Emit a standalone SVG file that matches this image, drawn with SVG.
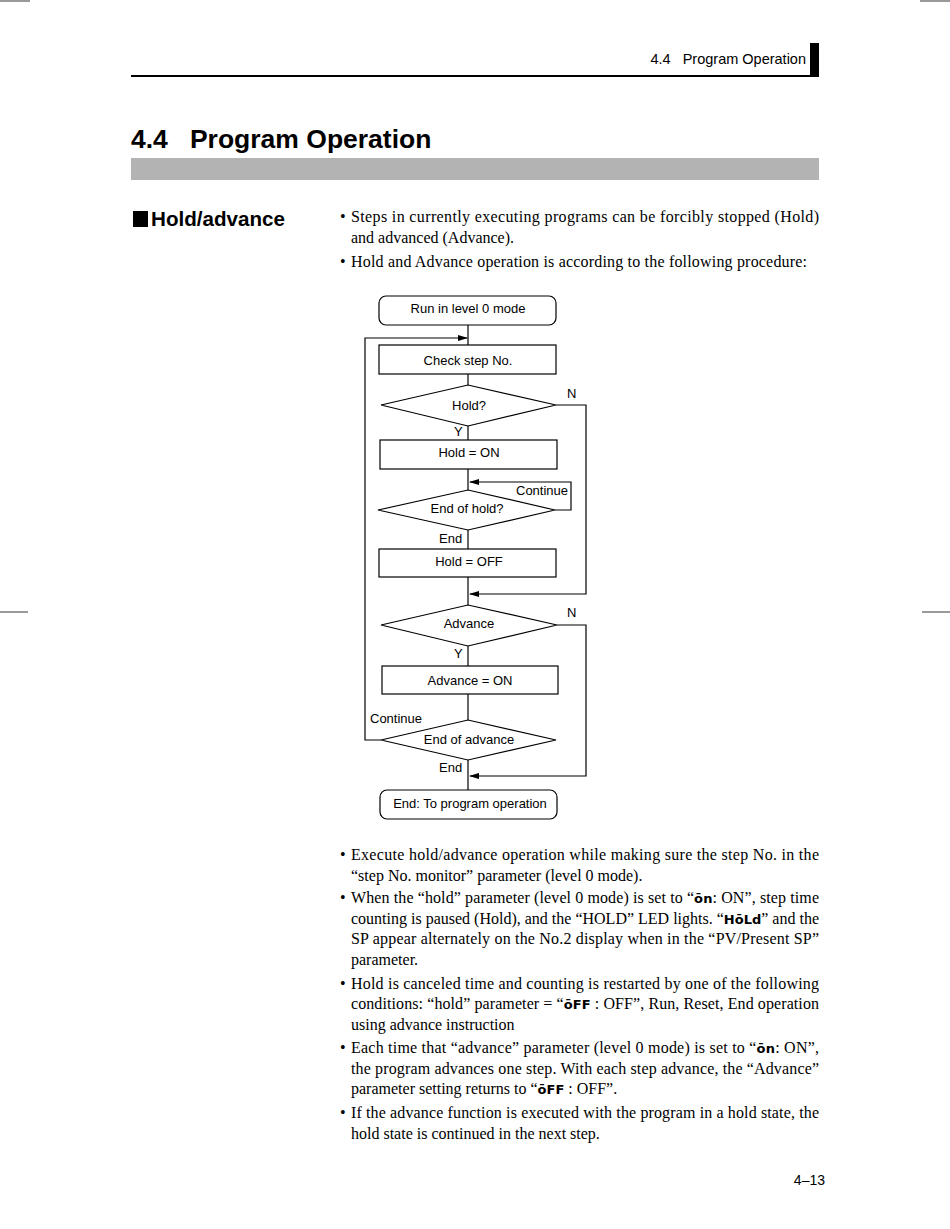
<svg xmlns="http://www.w3.org/2000/svg" width="950" height="1229" viewBox="0 0 950 1229">
<style>
.ser{font-family:"Liberation Serif","DejaVu Serif",serif;font-size:16px;fill:#000}
.fc{font-family:"Liberation Sans",Arial,sans-serif;font-size:13px;fill:#000}
.box{fill:#fff;stroke:#000;stroke-width:1.2}
.ln{fill:none;stroke:#000;stroke-width:1.2}
.seg{font-family:"DejaVu Sans",sans-serif;font-weight:bold;font-size:13px}
</style>
<defs>
<marker id="ah" markerWidth="10" markerHeight="6" refX="9" refY="3" orient="auto" markerUnits="userSpaceOnUse">
<path d="M0,0 L10,3 L0,6 Z" fill="#000"/>
</marker>
</defs>
<rect width="950" height="1229" fill="#fff"/>
<!-- crop marks -->
<g stroke="#000" stroke-width="0.8">
<line x1="0" y1="1" x2="30" y2="1"/><line x1="920" y1="1" x2="950" y2="1"/>
<line x1="0" y1="612" x2="28" y2="612"/><line x1="922" y1="612" x2="950" y2="612"/>
</g>
<!-- header -->
<text x="806" y="64" text-anchor="end" font-family="Liberation Sans,Arial,sans-serif" font-size="14.5" xml:space="preserve">4.4   Program Operation</text>
<rect x="810" y="43" width="9" height="34" fill="#000"/>
<rect x="131" y="75" width="688" height="2" fill="#000"/>
<text x="131" y="148" font-family="Liberation Sans,Arial,sans-serif" font-size="26.5" font-weight="bold" xml:space="preserve">4.4   Program Operation</text>
<rect x="131" y="158" width="688" height="22" fill="#b3b3b3"/>
<rect x="133" y="211" width="15" height="16" fill="#000"/>
<text x="151" y="226" font-family="Liberation Sans,Arial,sans-serif" font-size="20.5" font-weight="bold" textLength="134" lengthAdjust="spacingAndGlyphs">Hold/advance</text>
<!-- intro bullets -->
<g class="ser">
<text x="340" y="222">•</text>
<text x="351" y="222" textLength="468" lengthAdjust="spacing">Steps in currently executing programs can be forcibly stopped (Hold)</text>
<text x="351" y="243">and advanced (Advance).</text>
<text x="340" y="267">•</text>
<text x="351" y="267" textLength="456" lengthAdjust="spacing">Hold and Advance operation is according to the following procedure:</text>
</g>
<!-- connectors -->
<g id="connectors">
<line class="ln" x1="468" y1="325" x2="468" y2="345"/>
<polyline class="ln" points="381,740 365,740 365,338 467,338" marker-end="url(#ah)"/>
<line class="ln" x1="468" y1="374" x2="468" y2="385"/>
<polyline class="ln" points="556,405 586,405 586,594 470,594" marker-end="url(#ah)"/>
<line class="ln" x1="468" y1="426" x2="468" y2="440"/>
<line class="ln" x1="468" y1="469" x2="468" y2="490"/>
<polyline class="ln" points="555,510 571,510 571,482 470,482" marker-end="url(#ah)"/>
<line class="ln" x1="468" y1="530" x2="468" y2="549"/>
<line class="ln" x1="468" y1="577" x2="468" y2="605"/>
<polyline class="ln" points="557,625 586,625 586,776 470,776" marker-end="url(#ah)"/>
<line class="ln" x1="468" y1="646" x2="468" y2="666"/>
<line class="ln" x1="468" y1="694" x2="468" y2="720"/>
<line class="ln" x1="468" y1="760" x2="468" y2="790"/>
<text class="fc" x="567" y="398">N</text>
<text class="fc" x="454" y="436">Y</text>
<text class="fc" x="516" y="495">Continue</text>
<text class="fc" x="439" y="543">End</text>
<text class="fc" x="567" y="617">N</text>
<text class="fc" x="454" y="658">Y</text>
<text class="fc" x="370" y="723">Continue</text>
<text class="fc" x="439" y="772">End</text>
</g>
<!-- nodes -->
<g id="start"><rect class="box" x="379" y="296" width="177" height="29" rx="7"/><text class="fc" x="468" y="313" text-anchor="middle">Run in level 0 mode</text></g>
<g id="check"><rect class="box" x="379" y="345" width="177" height="29"/><text class="fc" x="468" y="365" text-anchor="middle">Check step No.</text></g>
<g id="hold_q"><polygon class="box" points="381,405 468,385 556,405 468,426"/><text class="fc" x="469" y="410" text-anchor="middle">Hold?</text></g>
<g id="hold_on"><rect class="box" x="380" y="440" width="177" height="29"/><text class="fc" x="469" y="457" text-anchor="middle">Hold = ON</text></g>
<g id="end_hold_q"><polygon class="box" points="378,510 468,490 555,510 468,530"/><text class="fc" x="467" y="513" text-anchor="middle">End of hold?</text></g>
<g id="hold_off"><rect class="box" x="379" y="549" width="177" height="28"/><text class="fc" x="469" y="566" text-anchor="middle">Hold = OFF</text></g>
<g id="advance_q"><polygon class="box" points="381,625 468,605 557,625 468,646"/><text class="fc" x="469" y="628" text-anchor="middle">Advance</text></g>
<g id="advance_on"><rect class="box" x="382" y="666" width="176" height="28"/><text class="fc" x="470" y="685" text-anchor="middle">Advance = ON</text></g>
<g id="end_adv_q"><polygon class="box" points="381,740 468,720 556,740 468,760"/><text class="fc" x="469" y="744" text-anchor="middle">End of advance</text></g>
<g id="end"><rect class="box" x="380" y="790" width="177" height="29" rx="7"/><text class="fc" x="470" y="808" text-anchor="middle">End: To program operation</text></g>
<!-- bottom bullets -->
<g class="ser">
<text x="340" y="860">•</text>
<text x="351" y="860" textLength="468" lengthAdjust="spacing">Execute hold/advance operation while making sure the step No. in the</text>
<text x="351" y="881">“step No. monitor” parameter (level 0 mode).</text>
<text x="340" y="903">•</text>
<text x="351" y="903" textLength="468" lengthAdjust="spacing">When the “hold” parameter (level 0 mode) is set to “<tspan class="seg">ōn</tspan>: ON”, step time</text>
<text x="351" y="924" textLength="468" lengthAdjust="spacing">counting is paused (Hold), and the “HOLD” LED lights. “<tspan class="seg">HōLd</tspan>” and the</text>
<text x="351" y="944" textLength="468" lengthAdjust="spacing">SP appear alternately on the No.2 display when in the “PV/Present SP”</text>
<text x="351" y="965">parameter.</text>
<text x="340" y="989">•</text>
<text x="351" y="989" textLength="468" lengthAdjust="spacing">Hold is canceled time and counting is restarted by one of the following</text>
<text x="351" y="1009" textLength="468" lengthAdjust="spacing">conditions: “hold” parameter = “<tspan class="seg">ōFF</tspan> : OFF”, Run, Reset, End operation</text>
<text x="351" y="1030">using advance instruction</text>
<text x="340" y="1053">•</text>
<text x="351" y="1053" textLength="468" lengthAdjust="spacing">Each time that “advance” parameter (level 0 mode) is set to “<tspan class="seg">ōn</tspan>: ON”,</text>
<text x="351" y="1074" textLength="468" lengthAdjust="spacing">the program advances one step. With each step advance, the “Advance”</text>
<text x="351" y="1094">parameter setting returns to “<tspan class="seg">ōFF</tspan> : OFF”.</text>
<text x="340" y="1118">•</text>
<text x="351" y="1118" textLength="468" lengthAdjust="spacing">If the advance function is executed with the program in a hold state, the</text>
<text x="351" y="1139">hold state is continued in the next step.</text>
</g>
<text x="825" y="1185" text-anchor="end" font-family="Liberation Sans,Arial,sans-serif" font-size="14">4–13</text>
</svg>
